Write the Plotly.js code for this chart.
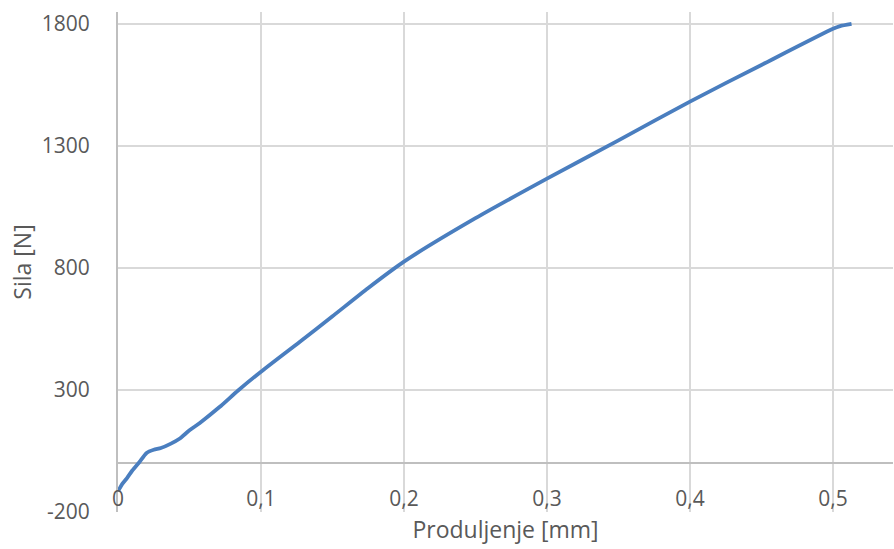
<!DOCTYPE html>
<html>
<head>
<meta charset="utf-8">
<script src="https://cdn.plot.ly/plotly-3.0.1.min.js"></script>
<style>html,body{margin:0;padding:0;background:#fff;}#chart{width:894px;height:549px;}</style>
</head>
<body>
<div id="chart"></div>
<script>
// Produljenje [mm]
const elongation = [0, 0.003, 0.0063, 0.010, 0.015, 0.020, 0.025, 0.030, 0.037, 0.043, 0.050, 0.057, 0.071, 0.084, 0.100, 0.127, 0.150, 0.175, 0.200, 0.250, 0.300, 0.350, 0.400, 0.450, 0.500, 0.505, 0.513];
// Sila [N]
const force = [-115, -85, -61, -30, 5, 42, 55, 62, 80, 100, 135, 164, 230, 298, 375, 497, 602, 718, 826, 1004, 1166, 1323, 1482, 1632, 1780, 1791, 1800];

const xTickVals = [0, 0.1, 0.2, 0.3, 0.4, 0.5];
const xTickText = ['0', '0,1', '0,2', '0,3', '0,4', '0,5'];
const yTickVals = [-200, 300, 800, 1300, 1800];
const yTickText = ['-200', '300', '800', '1300', '1800'];

const fontFam = 'Open Sans, sans-serif';
const txtCol = '#595959';

const trace = {
  x: elongation,
  y: force,
  type: 'scatter',
  mode: 'lines',
  line: {color: '#4a7ebf', width: 3.8, shape: 'spline', smoothing: 0.6},
  hoverinfo: 'skip'
};

const layout = {
  width: 894,
  height: 549,
  margin: {l: 118, r: 1, t: 12, b: 37},
  paper_bgcolor: '#ffffff',
  plot_bgcolor: '#ffffff',
  showlegend: false,
  font: {family: fontFam, color: txtCol},
  xaxis: {
    range: [0, 0.542],
    tickvals: xTickVals,
    ticktext: xTickText,
    showgrid: true,
    gridcolor: '#d9d9d9',
    gridwidth: 1.5,
    zeroline: false,
    showline: false,
    ticks: '',
    anchor: 'free',
    position: 0.056,
    tickfont: {family: fontFam, size: 21, color: txtCol},
    title: {text: 'Produljenje [mm]', font: {family: fontFam, size: 23, color: txtCol}, standoff: 10}
  },
  yaxis: {
    range: [-200, 1849],
    tickvals: yTickVals,
    ticktext: yTickText,
    showgrid: true,
    gridcolor: '#d9d9d9',
    gridwidth: 1.5,
    zeroline: true,
    zerolinecolor: '#bfbfbf',
    zerolinewidth: 2,
    showline: true,
    linecolor: '#bfbfbf',
    linewidth: 2,
    ticks: '',
    ticklabelstandoff: 22,
    tickfont: {family: fontFam, size: 21, color: txtCol},
    title: {text: 'Sila [N]', font: {family: fontFam, size: 23, color: txtCol}, standoff: 4}
  }
};

Plotly.newPlot('chart', [trace], layout, {staticPlot: true, displayModeBar: false});
</script>
</body>
</html>
